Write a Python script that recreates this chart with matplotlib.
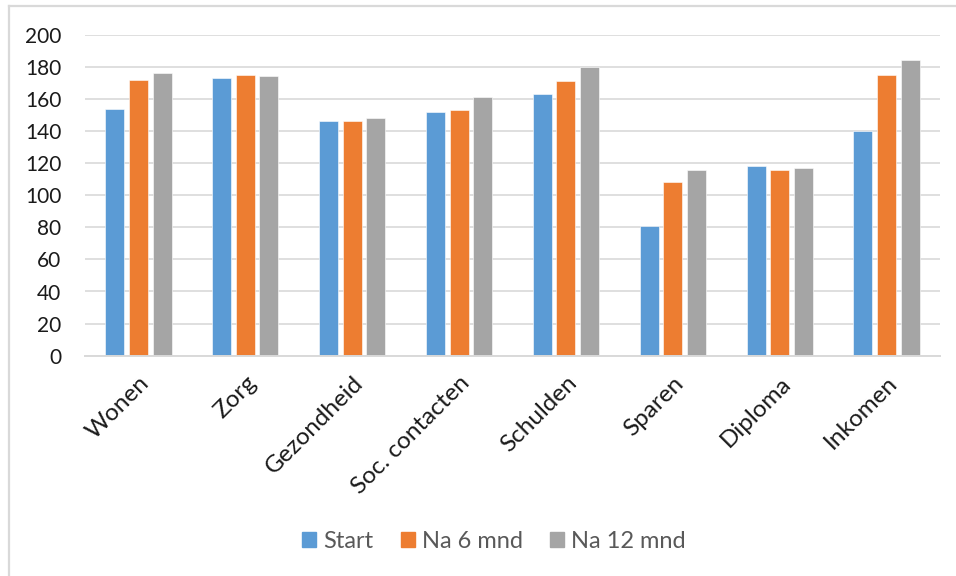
import matplotlib
matplotlib.use("Agg")
import matplotlib.pyplot as plt
from matplotlib.lines import Line2D
import numpy as np

# Data
categories = ["Wonen", "Zorg", "Gezondheid", "Soc. contacten",
              "Schulden", "Sparen", "Diploma", "Inkomen"]
start      = [154, 173, 146, 152, 163, 81, 118, 140]
na_6_mnd   = [172, 175, 146, 153, 171, 108, 116, 175]
na_12_mnd  = [176, 174, 148, 161, 180, 116, 117, 184]
series_labels = ["Start", "Na 6 mnd", "Na 12 mnd"]
y_ticks = list(range(0, 201, 20))

COLORS = ["#5B9BD5", "#ED7D31", "#A5A5A5"]
GRID   = "#D9D9D9"

plt.rcParams["font.family"] = ["Lato", "DejaVu Sans"]

W, H = 956, 576
fig = plt.figure(figsize=(W / 100, H / 100), dpi=100)
fig.patch.set_facecolor("white")

# plot area in pixel coords of the reference
left, right, top, bottom = 85, 940, 34.7, 355.7
ax = fig.add_axes([left / W, 1 - bottom / H, (right - left) / W, (bottom - top) / H])

x = np.arange(len(categories))
width = 0.178
step = 0.221
for i, vals in enumerate([start, na_6_mnd, na_12_mnd]):
    ax.bar(x + (i - 1) * step, vals, width, color=COLORS[i],
           edgecolor="white", linewidth=0.4, label=series_labels[i], zorder=3)

ax.set_xlim(-0.5, len(categories) - 0.5)
ax.set_ylim(0, 200)
ax.set_yticks(y_ticks)
ax.set_yticklabels([str(v) for v in y_ticks], fontsize=15, color="#1a1a1a")
ax.set_xticks(x)
ax.set_xticklabels(categories, rotation=45, ha="right", rotation_mode="anchor",
                   fontsize=17.5, color="#1a1a1a")
ax.tick_params(axis="y", length=0, pad=17)
ax.tick_params(axis="x", length=0, pad=12)
ax.grid(axis="y", color=GRID, linewidth=1.2, zorder=0)
for s in ["left", "right", "top"]:
    ax.spines[s].set_visible(False)
ax.spines["bottom"].set_color(GRID)
ax.spines["bottom"].set_linewidth(1.4)
ax.spines["bottom"].set_zorder(4)

# legend below the chart
handles = [plt.Rectangle((0, 0), 1, 1, color=c) for c in COLORS]
fig.legend(handles, series_labels, loc="center", bbox_to_anchor=(494 / W, 1 - 541 / H),
           ncol=3, frameon=False, fontsize=17, labelcolor="#595959",
           handlelength=0.6, handleheight=0.6, handletextpad=0.3, columnspacing=1.15)

# chart-area frame (only left and top edges are visible in the crop)
fig.add_artist(Line2D([8.5 / W, 8.5 / W], [0, 1 - 5.7 / H], transform=fig.transFigure,
                      color=GRID, linewidth=1.6))
fig.add_artist(Line2D([8.5 / W, 1], [1 - 5.7 / H, 1 - 5.7 / H], transform=fig.transFigure,
                      color=GRID, linewidth=1.6))

fig.savefig("out.png", dpi=100)
